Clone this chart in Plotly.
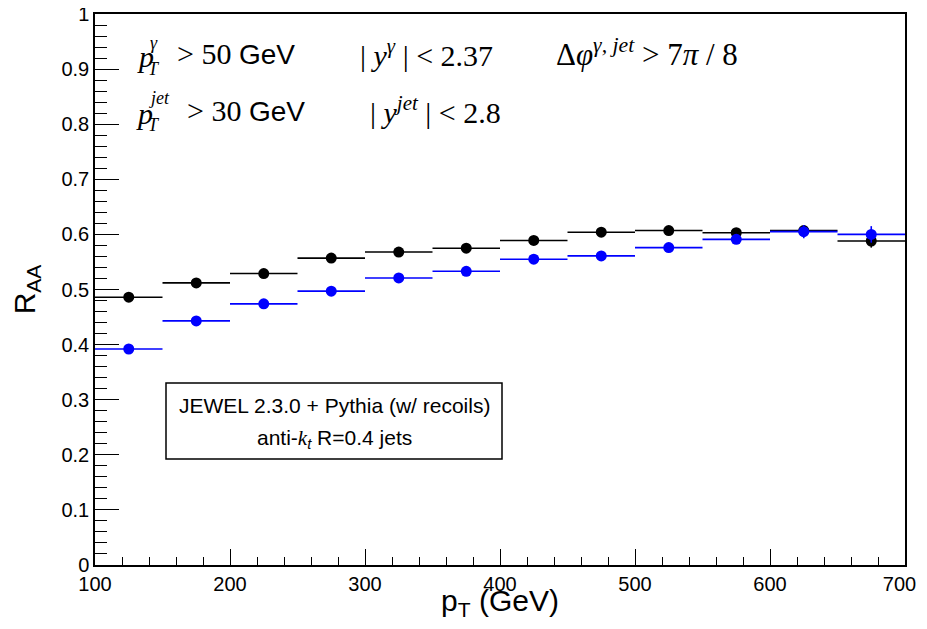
import plotly.graph_objects as go

# ---- data ----
bin_centers = [125, 175, 225, 275, 325, 375, 425, 475, 525, 575, 625, 675]
bin_half_width = [25] * 12
raa_recoil_off = [0.486, 0.512, 0.529, 0.557, 0.568, 0.575, 0.589, 0.604, 0.607, 0.603, 0.607, 0.588]
raa_recoil_off_err = [0.003, 0.003, 0.003, 0.003, 0.004, 0.004, 0.004, 0.005, 0.005, 0.006, 0.010, 0.012]
raa_recoil_on = [0.392, 0.443, 0.474, 0.497, 0.521, 0.533, 0.555, 0.561, 0.576, 0.591, 0.605, 0.600]
raa_recoil_on_err = [0.003, 0.003, 0.003, 0.003, 0.004, 0.004, 0.004, 0.005, 0.005, 0.006, 0.012, 0.015]

x_ticks = [100, 200, 300, 400, 500, 600, 700]
x_tick_text = ["100", "200", "300", "400", "500", "600", "700&nbsp;&nbsp;"]
y_ticks = [0, 0.1, 0.2, 0.3, 0.4, 0.5, 0.6, 0.7, 0.8, 0.9, 1.0]
y_tick_text = ["0", "0.1", "0.2", "0.3", "0.4", "0.5", "0.6", "0.7", "0.8", "0.9", "1"]

# page has an 8px body margin, so the figure is shifted by 8px
W, H = 911, 613
L, R, T, B = 87, 14, 6, 56
pw, ph = W - L - R, H - T - B


def px(xp):  # reference-image pixel -> paper
    return (xp - 8 - L) / pw


def py(yp):
    return (H - B - (yp - 8)) / ph


SANS = "Liberation Sans, Arial, Helvetica, sans-serif"
SERIF = "Liberation Serif, Times New Roman, serif"

fig = go.Figure()

for vals, errs, col in [
    (raa_recoil_off, raa_recoil_off_err, "#000000"),
    (raa_recoil_on, raa_recoil_on_err, "#0000ff"),
]:
    fig.add_trace(
        go.Scatter(
            x=bin_centers,
            y=vals,
            mode="markers",
            marker=dict(color=col, size=11, symbol="circle"),
            error_x=dict(type="data", array=bin_half_width, color=col, thickness=1.6, width=0),
            error_y=dict(type="data", array=errs, color=col, thickness=1.6, width=0),
            showlegend=False,
            hoverinfo="x+y",
        )
    )

axis_common = dict(
    showgrid=False,
    zeroline=False,
    showline=True,
    linecolor="black",
    linewidth=1.5,
    mirror=True,
    ticks="inside",
    tickcolor="black",
    ticklabeloverflow="allow",
    tickfont=dict(family=SANS, size=20, color="black"),
)

fig.update_xaxes(
    range=[100, 700],
    tickvals=x_ticks,
    ticktext=x_tick_text,
    ticklen=16,
    tickwidth=1.2,
    minor=dict(ticks="inside", dtick=20, ticklen=8, tickcolor="black", tickwidth=1.2),
    title=dict(text="p<sub>T</sub> (GeV)", font=dict(family=SANS, size=30, color="black"), standoff=1),
    **axis_common,
)
fig.update_yaxes(
    range=[0, 1],
    tickvals=y_ticks,
    ticktext=y_tick_text,
    ticklen=24,
    tickwidth=1.2,
    minor=dict(ticks="inside", dtick=0.02, ticklen=12, tickcolor="black", tickwidth=1.2),
    title=dict(text="R<sub>AA</sub>", font=dict(family=SANS, size=30, color="black"), standoff=22),
    **axis_common,
)

ann = []


def add(text, x, y, size=30, family=SERIF, xanchor="left"):
    ann.append(
        dict(
            text=text,
            x=px(x),
            y=py(y),
            xref="paper",
            yref="paper",
            xanchor=xanchor,
            yanchor="middle",
            showarrow=False,
            font=dict(family=family, size=size, color="black"),
        )
    )


gev = '<span style="font-family:Liberation Sans, Arial, sans-serif;font-size:28px">GeV</span>'

# row 1
add("<i>p</i>", 135, 57)
add("<i>γ</i>", 148, 43, size=18)
add("<i>T</i>", 146, 69, size=18)
add("&gt; 50 " + gev, 175, 53)
add("| <i>y</i><sup><i>γ</i></sup> | &lt; 2.37", 358, 53)
add("Δ<i>φ</i><sup><i>γ, jet</i></sup> &gt; 7<i>π</i> / 8", 554, 52, size=31)

# row 2
add("<i>p</i>", 134, 113)
add("<i>jet</i>", 147, 98, size=18)
add("<i>T</i>", 146, 125, size=18)
add("&gt; 30 " + gev, 185, 110)
add("| <i>y</i><sup><i>jet</i></sup> | &lt; 2.8", 368, 110)

# box text
box_cx = 334
add("JEWEL 2.3.0 + Pythia (w/ recoils)", box_cx, 405, size=21, family=SANS, xanchor="center")
add('anti-<i><span style="font-family:Liberation Serif, serif">k</span></i><sub><i>t</i></sub> R=0.4 jets',
    box_cx, 439, size=21, family=SANS, xanchor="center")

fig.add_shape(
    type="rect",
    xref="paper",
    yref="paper",
    x0=px(166),
    x1=px(502),
    y0=py(459),
    y1=py(383),
    line=dict(color="black", width=1.5),
    fillcolor="rgba(0,0,0,0)",
)

fig.update_layout(
    width=W,
    height=H,
    margin=dict(l=L, r=R, t=T, b=B, autoexpand=False),
    paper_bgcolor="white",
    plot_bgcolor="white",
    annotations=ann,
    font=dict(family=SANS, color="black"),
)

fig.write_html("out.html")
